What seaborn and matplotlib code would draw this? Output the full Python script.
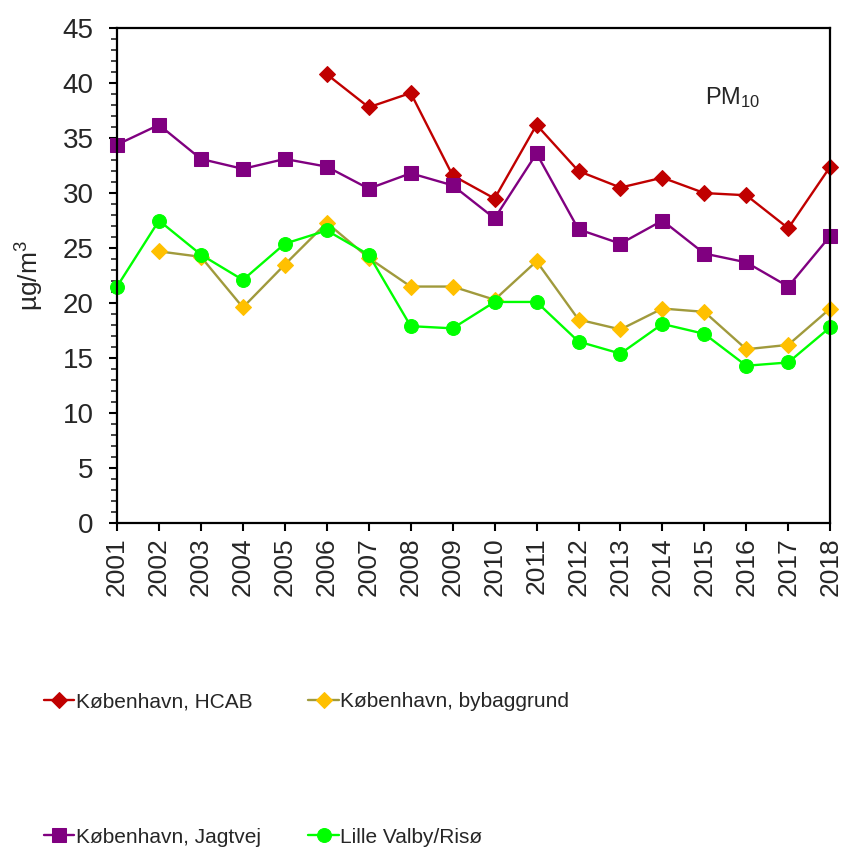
import numpy as np
import pandas as pd
import matplotlib.pyplot as plt
import seaborn as sns
from matplotlib.ticker import MultipleLocator

years = list(range(2001, 2019))

# PM10 annual means (ug/m3)
hcab = [np.nan, np.nan, np.nan, np.nan, np.nan, 40.8, 37.8, 39.1, 31.6, 29.5,
        36.2, 32.0, 30.5, 31.4, 30.0, 29.8, 26.8, 32.4]
bybaggrund = [np.nan, 24.7, 24.2, 19.6, 23.5, 27.3, 24.1, 21.5, 21.5, 20.3,
              23.8, 18.5, 17.6, 19.5, 19.2, 15.8, 16.2, 19.5]
jagtvej = [34.4, 36.2, 33.1, 32.2, 33.1, 32.4, 30.4, 31.8, 30.7, 27.7,
           33.6, 26.7, 25.4, 27.5, 24.5, 23.7, 21.5, 26.1]
lille_valby = [21.5, 27.5, 24.4, 22.1, 25.4, 26.6, 24.4, 17.9, 17.7, 20.1,
               20.1, 16.5, 15.4, 18.1, 17.2, 14.3, 14.6, 17.8]

series_names = ['København, HCAB', 'København, Jagtvej',
                'København, bybaggrund', 'Lille Valby/Risø']

sns.set_style('ticks')
plt.rcParams['font.family'] = ['Liberation Sans', 'DejaVu Sans']
plt.rcParams['mathtext.fontset'] = 'custom'
plt.rcParams['mathtext.rm'] = 'Liberation Sans'
plt.rcParams['mathtext.it'] = 'Liberation Sans'

df = pd.DataFrame({'year': years,
                   series_names[0]: hcab,
                   series_names[1]: jagtvej,
                   series_names[2]: bybaggrund,
                   series_names[3]: lille_valby})

fig = plt.figure(figsize=(8.42, 8.51), dpi=100)
ax = fig.add_axes([0.139, 0.3854, 0.847, 0.5816])

styles = {
    series_names[0]: dict(color='#C00000', marker='D', markersize=8,
                          markerfacecolor='#C00000', markeredgecolor='#C00000'),
    series_names[1]: dict(color='#800080', marker='s', markersize=10,
                          markerfacecolor='#800080', markeredgecolor='#800080'),
    series_names[2]: dict(color='#A09A3C', marker='D', markersize=8,
                          markerfacecolor='#FFC000', markeredgecolor='#FFC000'),
    series_names[3]: dict(color='#00FF00', marker='o', markersize=10,
                          markerfacecolor='#00FF00', markeredgecolor='#00FF00'),
}

for name in series_names:
    sub = df[['year', name]].dropna()
    sns.lineplot(data=sub, x='year', y=name, ax=ax, linewidth=1.7,
                 label=name, legend=False, clip_on=False, **styles[name])

ax.set_xlim(2001, 2018)
ax.set_ylim(0, 45)
ax.set_xticks(years)
ax.set_xticklabels([str(y) for y in years], rotation=90)
ax.yaxis.set_major_locator(MultipleLocator(5))
ax.yaxis.set_minor_locator(MultipleLocator(1))
ax.tick_params(axis='both', which='major', direction='out',
               length=6, width=1.5, color='black')
ax.tick_params(axis='x', which='major', labelsize=19, pad=4)
ax.tick_params(axis='y', which='major', labelsize=20, pad=11)
ax.tick_params(axis='y', which='minor', direction='out', length=4, width=1.2)
for sp in ax.spines.values():
    sp.set_linewidth(1.6)
    sp.set_color('black')

ax.set_xlabel('')
ax.set_ylabel('µg/m$^3$', fontsize=19, labelpad=12)

ax.text(0.825, 0.86, 'PM$_{10}$', transform=ax.transAxes, fontsize=17,
        ha='left', va='center')

handles, labels = ax.get_legend_handles_labels()
fig.legend(handles, labels, loc='upper left', bbox_to_anchor=(0.042, 0.1965),
           ncol=2, frameon=False, fontsize=15, handlelength=1.45,
           handletextpad=0.08, columnspacing=2.3, labelspacing=5.6,
           borderaxespad=0)

fig.savefig('out.png', dpi=100)
